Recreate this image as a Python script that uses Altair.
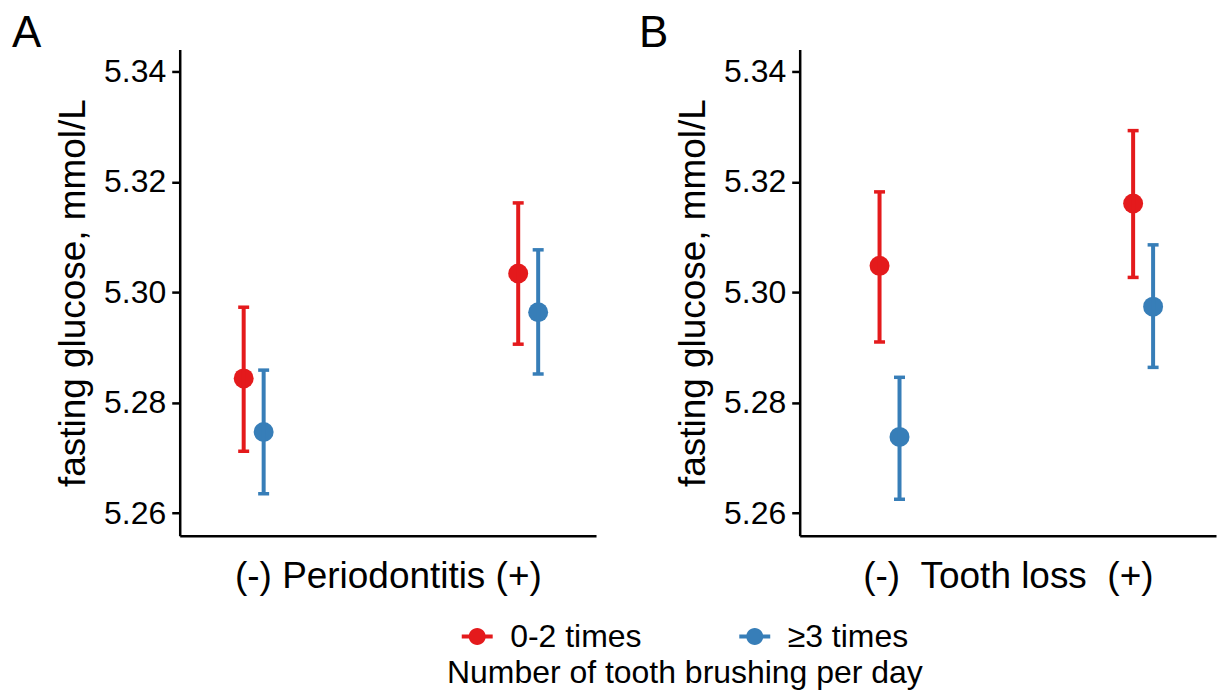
import altair as alt
import pandas as pd

groups = ["(-)", "(+)"]
brushing = ["0-2 times", "≥3 times"]
colors = ["#E41A1C", "#377EB8"]
y_ticks = [5.26, 5.28, 5.30, 5.32, 5.34]

# Panel A: Periodontitis  (order: (-) 0-2, (-) >=3, (+) 0-2, (+) >=3)
a_mean = [5.2844, 5.2747, 5.3034, 5.2964]
a_low = [5.2712, 5.2635, 5.2906, 5.2852]
a_high = [5.2973, 5.2859, 5.3162, 5.3077]

# Panel B: Tooth loss
b_mean = [5.3048, 5.2738, 5.3161, 5.2974]
b_low = [5.2910, 5.2625, 5.3027, 5.2864]
b_high = [5.3182, 5.2846, 5.3293, 5.3086]

FONT = "Liberation Sans"
NB = "\u00a0"
LEG_PATH = ("M-1,-0.13L1,-0.13L1,0.13L-1,0.13Z "
            "M0.55,0A0.55,0.55,0,1,1,-0.55,0A0.55,0.55,0,1,1,0.55,0Z")


def panel(means, lows, highs, xtitle, letter, pi, po, align, letter_dx):
    df = pd.DataFrame({
        "group": [g for g in groups for _ in brushing],
        "brushing": brushing * 2,
        "mean": means,
        "low": lows,
        "high": highs,
    })
    xenc = alt.X("group:N", sort=groups,
                 scale=alt.Scale(paddingInner=pi, paddingOuter=po, align=align),
                 axis=alt.Axis(title=xtitle, labels=False, ticks=False))
    xoff = alt.XOffset("brushing:N", sort=brushing,
                       scale=alt.Scale(domain=brushing, paddingInner=0, paddingOuter=0))
    color = alt.Color("brushing:N", sort=brushing,
                      scale=alt.Scale(domain=brushing, range=colors),
                      legend=alt.Legend(title="Number of tooth brushing per day"))
    yscale = alt.Scale(domain=[5.2559, 5.3440], nice=False, zero=False)
    yaxis = alt.Axis(title="fasting glucose, mmol/L", values=y_ticks, format=".2f")
    base = alt.Chart(df).encode(x=xenc, xOffset=xoff, color=color)
    rule = base.mark_rule(strokeWidth=4).encode(
        y=alt.Y("low:Q", scale=yscale, axis=yaxis), y2="high:Q")
    cap_hi = base.mark_tick(size=11, thickness=3.5, opacity=1).encode(y=alt.Y("high:Q"))
    cap_lo = base.mark_tick(size=11, thickness=3.5, opacity=1).encode(y=alt.Y("low:Q"))
    pts = base.mark_circle(size=400, opacity=1).encode(y=alt.Y("mean:Q"))
    return alt.layer(pts, rule, cap_hi, cap_lo).properties(
        width=417, height=487,
        title=alt.Title(letter, anchor="start", frame="group", fontSize=44,
                        fontWeight="normal", font=FONT, color="black",
                        dx=letter_dx, baseline="alphabetic", offset=-41),
    )


pA = panel(a_mean, a_low, a_high, "(-) Periodontitis (+)", "A", 0.8545, 0.1855, 0.53, -168)
pB = panel(b_mean, b_low, b_high, "(-)" + NB * 2 + "Tooth loss" + NB * 2 + "(+)", "B",
           0.8425, 0.2421, 0.569, -161)

chart = alt.hconcat(pA, pB, spacing=43).properties(
    padding={"left": 4, "top": 3, "right": 2, "bottom": 0}
).configure_view(stroke=None).configure_axis(
    domainColor="black", domainWidth=2.5, tickColor="black", tickWidth=2.5,
    tickSize=8, labelFont=FONT, labelFontSize=32, labelColor="black",
    labelPadding=6, titleFont=FONT, titleFontSize=37, titleFontWeight="normal",
    titleColor="black", grid=False,
).configure_axisY(titlePadding=11).configure_axisX(titlePadding=23).configure_legend(
    orient="none", legendX=268, legendY=572, direction="horizontal",
    titleOrient="bottom", titleAnchor="middle", columnPadding=97, labelOffset=17,
    symbolType=LEG_PATH, symbolSize=961, symbolStrokeWidth=0,
    labelFont=FONT, labelFontSize=32, labelColor="black",
    titleFont=FONT, titleFontSize=32, titleFontWeight="normal", titleColor="black",
    titlePadding=6, titleLimit=1000, labelLimit=500,
)

chart.save("out.html", embed_options={"renderer": "svg", "actions": False})
